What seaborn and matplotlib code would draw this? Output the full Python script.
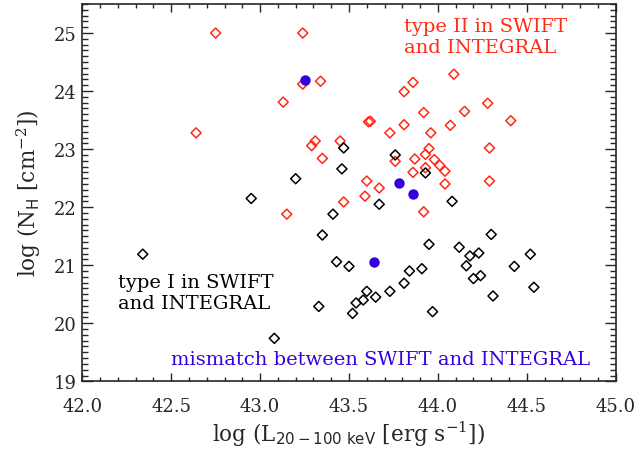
import numpy as np
import pandas as pd
import matplotlib
matplotlib.use("Agg")
import matplotlib.pyplot as plt
import seaborn as sns
from matplotlib.ticker import MultipleLocator

# type II (red open diamonds)
type2_lum = [42.75, 43.24, 43.24, 43.34, 43.13, 42.64, 43.29, 43.31, 43.35, 43.45,
             43.15, 43.47, 43.59, 43.60, 43.61, 43.62, 43.67, 43.73, 43.76, 43.81,
             43.81, 43.86, 43.87, 43.86, 43.92, 43.92, 43.93, 43.95, 43.93, 43.96,
             43.98, 44.01, 44.04, 44.04, 44.07, 44.09, 44.15, 44.28, 44.29, 44.29,
             44.41]
type2_nh = [25.00, 25.00, 24.12, 24.17, 23.81, 23.28, 23.06, 23.14, 22.84, 23.14,
            21.88, 22.09, 22.19, 22.45, 23.47, 23.48, 22.33, 23.28, 22.79, 23.42,
            23.99, 24.15, 22.83, 22.60, 23.63, 21.92, 22.91, 23.01, 22.68, 23.28,
            22.82, 22.72, 22.62, 22.40, 23.41, 24.29, 23.65, 23.79, 23.02, 22.45,
            23.49]

# type I (black open diamonds)
type1_lum = [42.34, 42.95, 43.20, 43.47, 43.46, 43.41, 43.35, 43.43, 43.50, 43.33,
             43.08, 43.52, 43.54, 43.58, 43.60, 43.65, 43.67, 43.73, 43.76, 43.81,
             43.84, 43.91, 43.93, 43.95, 43.97, 44.08, 44.12, 44.16, 44.18, 44.23,
             44.20, 44.24, 44.30, 44.31, 44.43, 44.52, 44.54]
type1_nh = [21.19, 22.15, 22.49, 23.02, 22.66, 21.88, 21.52, 21.06, 20.98, 20.29,
            19.74, 20.17, 20.35, 20.40, 20.55, 20.45, 22.05, 20.55, 22.90, 20.69,
            20.90, 20.94, 22.59, 21.36, 20.20, 22.10, 21.31, 20.99, 21.16, 21.21,
            20.77, 20.82, 21.53, 20.47, 20.98, 21.19, 20.62]

# mismatch (blue filled circles)
mis_lum = [43.25, 43.78, 43.86, 43.64]
mis_nh = [24.19, 22.41, 22.22, 21.06]

RED = "#ff2a14"
BLUE = "#3300e0"

sns.set_style("ticks")
plt.rcParams["font.family"] = ["DejaVu Serif"]
plt.rcParams["mathtext.fontset"] = "dejavuserif"

fig = plt.figure(figsize=(6.4, 4.56), dpi=100)
ax = fig.add_axes([0.1286, 0.1616, 0.8334, 0.8274])

sns.scatterplot(x=type2_lum, y=type2_nh, ax=ax, marker="D", s=26,
                facecolors="none", edgecolor=RED, linewidth=1.1)
sns.scatterplot(x=type1_lum, y=type1_nh, ax=ax, marker="D", s=26,
                facecolors="none", edgecolor="black", linewidth=1.1)
sns.scatterplot(x=mis_lum, y=mis_nh, ax=ax, marker="o", s=56,
                color=BLUE, edgecolor=BLUE, linewidth=0)

ax.set_xlim(42.0, 45.0)
ax.set_ylim(19.0, 25.5)
ax.xaxis.set_major_locator(MultipleLocator(0.5))
ax.xaxis.set_minor_locator(MultipleLocator(0.1))
ax.yaxis.set_major_locator(MultipleLocator(1))
ax.yaxis.set_minor_locator(MultipleLocator(0.1))
ax.xaxis.set_major_formatter(plt.FormatStrFormatter("%.1f"))

ax.tick_params(axis="both", which="both", direction="in", top=True, right=True,
               labelsize=13, width=1.0)
ax.tick_params(axis="x", which="major", length=5.5, pad=11)
ax.tick_params(axis="x", which="minor", length=3)
ax.tick_params(axis="y", which="major", length=8, pad=4)
ax.tick_params(axis="y", which="minor", length=4.5)
for sp in ax.spines.values():
    sp.set_linewidth(1.2)

ax.set_xlabel(r"log (L$_{\mathsf{20-100\ keV}}$ [erg s$^{-1}$])", fontsize=15.5, labelpad=3)
ax.set_ylabel(r"log (N$_{\mathsf{H}}$ [cm$^{-2}$])", fontsize=15.5, labelpad=8)

ax.text(43.81, 25.27, "type II in SWIFT\nand INTEGRAL", color=RED, fontsize=14,
        va="top", ha="left", linespacing=1.2)
ax.text(42.20, 20.86, "type I in SWIFT\nand INTEGRAL", color="black", fontsize=14,
        va="top", ha="left", linespacing=1.2)
ax.text(42.50, 19.38, "mismatch between SWIFT and INTEGRAL", color=BLUE, fontsize=14,
        va="center", ha="left")

fig.savefig("out.png", dpi=100)
